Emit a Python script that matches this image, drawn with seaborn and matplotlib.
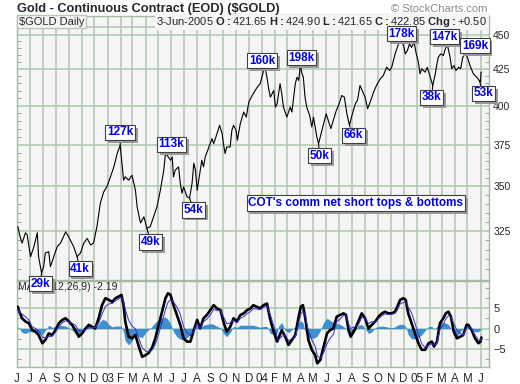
import matplotlib
matplotlib.use("Agg")
import matplotlib.pyplot as plt
import matplotlib.dates as mdates
import matplotlib.ticker as mticker
import matplotlib.patheffects as pe
import seaborn as sns
import pandas as pd

sns.set_style("white")
plt.rcParams['font.family'] = ['Liberation Sans', 'DejaVu Sans']
plt.rcParams['mathtext.fontset'] = 'custom'
plt.rcParams['mathtext.rm'] = 'Liberation Sans'
plt.rcParams['mathtext.bf'] = 'Liberation Sans:bold'

# ---- price data (continuous contract close) ----
price_dates = [
    "2002-06-03", "2002-06-07", "2002-06-13", "2002-06-21", "2002-06-25", "2002-07-03",
    "2002-07-11", "2002-07-19", "2002-07-22", "2002-07-29", "2002-08-03", "2002-08-07",
    "2002-08-15", "2002-08-19", "2002-08-27", "2002-09-04", "2002-09-12", "2002-09-24",
    "2002-10-01", "2002-10-13", "2002-10-21", "2002-10-29", "2002-11-06", "2002-11-14",
    "2002-11-22", "2002-11-29", "2002-12-07", "2002-12-15", "2002-12-23", "2002-12-31",
    "2003-01-08", "2003-01-16", "2003-01-24", "2003-01-31", "2003-02-08", "2003-02-12",
    "2003-02-20", "2003-02-28", "2003-03-08", "2003-03-12", "2003-03-20", "2003-03-28",
    "2003-04-04", "2003-04-12", "2003-04-20", "2003-04-28", "2003-05-06", "2003-05-14",
    "2003-05-18", "2003-05-22", "2003-05-30", "2003-06-03", "2003-06-06", "2003-06-10",
    "2003-06-18", "2003-06-22", "2003-06-26", "2003-06-30", "2003-07-08", "2003-07-14",
    "2003-07-20", "2003-07-24", "2003-07-28", "2003-08-01", "2003-08-04", "2003-08-08",
    "2003-08-12", "2003-08-16", "2003-08-20", "2003-08-26", "2003-08-30", "2003-09-05",
    "2003-09-09", "2003-09-17", "2003-09-23", "2003-09-29", "2003-10-02", "2003-10-06",
    "2003-10-10", "2003-10-18", "2003-10-22", "2003-10-26", "2003-11-01", "2003-11-04",
    "2003-11-11", "2003-11-19", "2003-11-25", "2003-12-01", "2003-12-09", "2003-12-16",
    "2003-12-24", "2003-12-28", "2004-01-05", "2004-01-09", "2004-01-13", "2004-01-17",
    "2004-01-21", "2004-01-29", "2004-02-02", "2004-02-06", "2004-02-13", "2004-02-17",
    "2004-02-21", "2004-02-29", "2004-03-08", "2004-03-12", "2004-03-20", "2004-03-24",
    "2004-03-28", "2004-04-01", "2004-04-05", "2004-04-08", "2004-04-12", "2004-04-16",
    "2004-04-23", "2004-04-28", "2004-05-02", "2004-05-10", "2004-05-14", "2004-05-20",
    "2004-05-24", "2004-06-01", "2004-06-06", "2004-06-12", "2004-06-18", "2004-06-25",
    "2004-06-30", "2004-07-08", "2004-07-14", "2004-07-20", "2004-07-26", "2004-08-01",
    "2004-08-09", "2004-08-14", "2004-08-20", "2004-08-27", "2004-09-01", "2004-09-07",
    "2004-09-13", "2004-09-21", "2004-09-29", "2004-10-07", "2004-10-14", "2004-10-22",
    "2004-10-29", "2004-11-03", "2004-11-11", "2004-11-19", "2004-11-24", "2004-12-01",
    "2004-12-05", "2004-12-10", "2004-12-15", "2004-12-20", "2004-12-26", "2004-12-31",
    "2005-01-05", "2005-01-09", "2005-01-13", "2005-01-21", "2005-01-26", "2005-02-02",
    "2005-02-08", "2005-02-14", "2005-02-18", "2005-02-21", "2005-02-27", "2005-03-05",
    "2005-03-11", "2005-03-15", "2005-03-21", "2005-03-25", "2005-03-30", "2005-04-04",
    "2005-04-10", "2005-04-15", "2005-04-20", "2005-04-25", "2005-05-01", "2005-05-07",
    "2005-05-15", "2005-05-23", "2005-05-29", "2005-06-01", "2005-06-02", "2005-06-03",
]
price_close = [
    327.3, 323.0, 318.5, 324.0, 323.0, 311.4,
    316.6, 324.0, 311.4, 303.2, 306.3, 313.3,
    314.0, 306.3, 311.4, 316.6, 318.5, 324.5,
    321.9, 316.6, 311.4, 313.3, 318.5, 321.0,
    317.5, 318.5, 327.3, 340.3, 346.7, 350.0,
    355.5, 361.4, 369.6, 374.5, 353.5, 355.5,
    353.5, 356.4, 347.7, 338.3, 329.3, 332.7,
    326.5, 327.3, 332.7, 338.3, 347.7, 359.4,
    369.6, 368.4, 365.4, 367.4, 355.5, 359.4,
    361.4, 351.8, 346.0, 349.6, 343.9, 343.2,
    351.8, 363.6, 359.4, 347.7, 352.5, 359.4,
    365.4, 361.4, 367.4, 371.5, 374.5, 378.7,
    375.6, 381.9, 387.2, 381.9, 375.6, 369.5,
    373.5, 373.5, 384.0, 387.2, 384.0, 377.7,
    388.3, 395.8, 392.5, 402.3, 406.8, 410.2,
    413.6, 414.8, 424.0, 425.2, 419.3, 411.4,
    405.7, 410.2, 399.0, 401.3, 414.8, 408.0,
    399.0, 392.5, 399.0, 395.8, 414.8, 419.3,
    417.1, 427.5, 421.7, 419.3, 405.7, 399.0,
    393.6, 386.1, 392.5, 379.7, 375.6, 381.9,
    386.1, 394.7, 390.4, 385.1, 390.4, 396.9,
    400.0, 406.8, 405.7, 394.7, 387.2, 393.6,
    401.3, 403.5, 413.6, 409.0, 405.7, 398.0,
    402.3, 409.0, 414.3, 418.2, 420.5, 426.3,
    424.0, 426.3, 435.9, 443.1, 445.5, 441.9,
    435.9, 438.2, 443.1, 440.6, 444.3, 435.9,
    429.9, 421.7, 425.2, 422.8, 426.3, 419.3,
    413.6, 421.7, 428.7, 433.4, 435.9, 434.7,
    440.6, 441.9, 433.4, 425.2, 427.5, 424.0,
    426.3, 425.2, 433.4, 435.9, 433.4, 427.5,
    421.7, 419.3, 417.1, 416.0, 422.35, 422.85,
]

# ---- MACD(12,26,9) ----
macd_dates = [
    "2002-06-03", "2002-06-05", "2002-06-13", "2002-06-21", "2002-06-29", "2002-07-07",
    "2002-07-15", "2002-07-22", "2002-07-31", "2002-08-07", "2002-08-15", "2002-08-23",
    "2002-08-31", "2002-09-08", "2002-09-16", "2002-09-24", "2002-10-01", "2002-10-09",
    "2002-10-17", "2002-10-25", "2002-11-02", "2002-11-10", "2002-11-18", "2002-11-26",
    "2002-12-03", "2002-12-11", "2002-12-19", "2002-12-27", "2003-01-04", "2003-01-12",
    "2003-01-20", "2003-01-27", "2003-02-03", "2003-02-08", "2003-02-12", "2003-02-20",
    "2003-02-28", "2003-03-08", "2003-03-16", "2003-03-24", "2003-04-01", "2003-04-08",
    "2003-04-16", "2003-04-24", "2003-05-02", "2003-05-10", "2003-05-18", "2003-05-24",
    "2003-05-30", "2003-06-06", "2003-06-14", "2003-06-22", "2003-06-30", "2003-07-08",
    "2003-07-16", "2003-07-24", "2003-08-01", "2003-08-08", "2003-08-16", "2003-08-24",
    "2003-09-01", "2003-09-09", "2003-09-17", "2003-09-25", "2003-10-02", "2003-10-10",
    "2003-10-18", "2003-10-26", "2003-11-03", "2003-11-11", "2003-11-19", "2003-11-27",
    "2003-12-05", "2003-12-12", "2003-12-28", "2004-01-05", "2004-01-13", "2004-01-21",
    "2004-01-29", "2004-02-06", "2004-02-09", "2004-02-17", "2004-02-25", "2004-03-04",
    "2004-03-12", "2004-03-20", "2004-03-28", "2004-04-02", "2004-04-07", "2004-04-12",
    "2004-04-20", "2004-04-28", "2004-05-06", "2004-05-11", "2004-05-18", "2004-05-26",
    "2004-06-03", "2004-06-10", "2004-06-18", "2004-06-26", "2004-07-04", "2004-07-12",
    "2004-07-18", "2004-07-24", "2004-07-29", "2004-08-09", "2004-08-16", "2004-08-24",
    "2004-09-01", "2004-09-09", "2004-09-17", "2004-09-25", "2004-10-03", "2004-10-11",
    "2004-10-18", "2004-10-26", "2004-11-03", "2004-11-11", "2004-11-16", "2004-11-23",
    "2004-12-01", "2004-12-06", "2004-12-12", "2004-12-20", "2004-12-28", "2005-01-05",
    "2005-01-13", "2005-01-21", "2005-01-29", "2005-02-06", "2005-02-11", "2005-02-18",
    "2005-02-25", "2005-03-05", "2005-03-11", "2005-03-17", "2005-03-23", "2005-03-29",
    "2005-04-06", "2005-04-14", "2005-04-21", "2005-04-29", "2005-05-03", "2005-05-11",
    "2005-05-19", "2005-05-27", "2005-06-01", "2005-06-03",
]
macd_line = [
    5.3, 4.5, 2.5, 1.7, 1.3, -0.4,
    -0.8, -1.6, -3.6, -2.8, -1.2, -1.6,
    -0.4, 1.3, 2.1, 2.5, 1.8, 0.9,
    -0.4, -2.0, -1.2, 0.0, 0.9, 0.4,
    0.0, 2.5, 5.7, 7.4, 7.0, 6.5,
    7.4, 7.8, 8.2, 5.7, 1.7, -2.0,
    -2.4, -1.6, -4.4, -6.9, -6.5, -6.0,
    -4.8, -2.4, 0.9, 4.1, 7.4, 8.6,
    8.2, 5.7, 3.3, 0.9, -2.4, -3.2,
    -3.2, -0.4, 2.1, 0.0, 2.5, 3.3,
    4.5, 5.7, 4.9, 4.5, 1.7, -0.8,
    0.4, 2.5, 1.7, 3.3, 3.7, 4.5,
    4.9, 5.7, 4.9, 5.7, 6.1, 2.1,
    -0.8, -3.2, -2.4, -0.4, -2.0, -4.0,
    -2.8, -1.6, 2.9, 5.3, 5.7, 2.9,
    -2.8, -5.2, -6.5, -8.5, -7.7, -4.4,
    -1.2, -0.4, 0.0, 2.9, 3.3, 3.7,
    3.3, -0.4, -2.0, 0.0, 1.7, 3.7,
    2.5, 0.0, 0.9, 1.7, 2.9, 3.7,
    4.1, 3.7, 3.7, 4.1, 5.3, 7.0,
    7.4, 7.0, 3.7, 1.3, -1.2, -3.6,
    -5.2, -5.2, -3.6, -3.2, -4.4, -3.2,
    1.3, 2.5, 3.7, 4.1, 2.9, -0.4,
    -2.4, -2.0, -1.6, 0.9, 0.9, -0.4,
    -2.4, -3.6, -3.2, -2.19,
]
macd_hist = [
    0.5, 0.3, -1.0, -1.2, -0.8, -0.8,
    -0.8, -1.0, -1.5, -0.5, 0.8, 0.3,
    0.5, 0.8, 0.7, 0.6, 0.2, -0.4,
    -1.2, -1.5, -0.6, 0.3, 0.6, 0.2,
    -0.2, 1.2, 2.2, 2.0, 1.0, 0.4,
    0.6, 0.6, 0.5, -1.0, -3.0, -4.0,
    -3.0, -1.5, -2.0, -2.2, -1.0, -0.3,
    0.5, 1.5, 2.2, 2.6, 2.8, 2.2,
    1.2, -0.8, -2.0, -2.6, -2.8, -2.2,
    -1.5, 0.2, 0.8, 0.2, 0.8, 1.0,
    1.2, 1.0, 0.5, 0.2, -1.2, -2.0,
    -1.0, 0.5, 0.3, 0.8, 0.8, 0.8,
    0.8, 0.8, 0.3, 0.5, 0.5, -1.2,
    -1.5, -1.2, 0.5, 1.5, -0.5, -1.0,
    -0.3, 0.5, 1.5, 1.8, 1.5, -0.5,
    -2.2, -2.4, -2.2, -1.8, -0.5, 1.5,
    2.5, 2.0, 1.5, 1.2, 1.0, 0.5,
    0.0, -1.5, -2.0, -0.5, 0.8, 1.0,
    0.0, -1.2, -0.8, 0.2, 0.5, 0.6,
    0.5, 0.3, 0.2, 0.4, 0.8, 1.0,
    1.0, 0.5, -1.5, -2.5, -2.5, -2.2,
    -1.5, -0.5, 0.5, 0.5, -0.2, 0.5,
    1.5, 1.5, 1.3, 1.0, 0.0, -1.8,
    -2.0, -0.8, 0.0, 0.6, 0.5, -0.3,
    -0.8, -0.8, -0.3, 0.2,
]

# ---- COT commercial net short labels at turning points ----
tag_text = ["29k", "41k", "127k", "49k", "113k", "54k", "160k", "198k",
            "50k", "66k", "178k", "38k", "147k", "169k", "53k"]
tag_dates = ["2002-07-29", "2002-10-21", "2003-01-31", "2003-04-04", "2003-05-18",
             "2003-07-14", "2004-01-09", "2004-04-01", "2004-05-14", "2004-07-26",
             "2004-11-24", "2005-02-08", "2005-03-15", "2005-04-25", "2005-05-29"]
tag_price = [303.2, 311.4, 374.5, 326.5, 369.6, 343.2, 425.2, 427.5,
             375.6, 387.2, 445.5, 413.6, 441.9, 435.9, 417.1]
# label box offsets from the marked point, in pixels
tag_dx = [-1, 3, 0, 4, 6, 4, -3, 1, 1, 4, 1, -1, -3, 10, 4]
tag_dy = [-11, -12, 13, -14, 9, -12, 8, 8, -12, -10, 7, -12, 9, 8, -13]

BG = "#f5f5f5"
GRID = "#b4cab4"
SPINE = "#a3b9a3"
BLUE = "#0000ee"
HIST = "#3d8fd1"

price = pd.DataFrame({"date": pd.to_datetime(price_dates), "close": price_close})
macd = pd.DataFrame({"date": pd.to_datetime(macd_dates), "macd": macd_line, "hist": macd_hist})
macd["signal"] = macd["macd"] - macd["hist"]

fig = plt.figure(figsize=(5.2, 3.84), dpi=100)
fig.patch.set_facecolor("white")
ax = fig.add_axes([17 / 520, 1 - 280 / 384, 472 / 520, 264 / 384])
axm = fig.add_axes([17 / 520, 1 - 367 / 384, 472 / 520, 86 / 384])
ax.set_zorder(2)
axm.set_zorder(1)

xmin, xmax = pd.Timestamp("2002-06-01"), pd.Timestamp("2005-06-21")

for a in (ax, axm):
    a.set_facecolor(BG)
    for s in a.spines.values():
        s.set_color(SPINE)
        s.set_linewidth(1.0)
    a.set_xlim(xmin, xmax)
    a.xaxis.set_major_locator(mdates.MonthLocator())
    a.grid(True, which="major", color=GRID, linewidth=1.2)
    a.set_axisbelow(True)
    a.yaxis.tick_right()

# price panel
sns.lineplot(data=price, x="date", y="close", ax=ax, color="black", linewidth=0.8,
             estimator=None, zorder=3)
ax.set_yscale("log")
ax.set_ylim(299.6, 464.1)
ax.yaxis.set_major_locator(mticker.FixedLocator([325, 350, 375, 400, 425, 450]))
ax.yaxis.set_major_formatter(mticker.FixedFormatter(["325", "350", "375", "400", "425", "450"]))
ax.yaxis.set_minor_locator(mticker.FixedLocator([v for v in range(305, 465, 5) if v % 25]))
ax.yaxis.set_minor_formatter(mticker.NullFormatter())
ax.tick_params(axis="y", which="major", length=0, labelsize=7.5, pad=3)
ax.tick_params(axis="y", which="minor", direction="in", length=3, color="#909090",
               left=True, right=True)
ax.tick_params(axis="x", length=0, labelbottom=False)
ax.set_xlabel("")
ax.set_ylabel("")

# header strip inside the price panel
ax.plot([0, 1], [0.958, 0.958], transform=ax.transAxes, color=GRID, lw=1.2, zorder=2)
ax.text(0.004, 0.979, "$GOLD Daily", transform=ax.transAxes, fontsize=8, va="center",
        ha="left", zorder=4,
        bbox=dict(boxstyle="square,pad=0.15", facecolor=BG, edgecolor=GRID, lw=1))
ax.text(0.996, 0.979,
        r"3-Jun-2005 $\mathbf{O:}$421.65 $\mathbf{H:}$424.90 $\mathbf{L:}$421.65 "
        r"$\mathbf{C:}$422.85 $\mathbf{Chg:}$+0.50",
        transform=ax.transAxes, fontsize=8, va="center", ha="right", zorder=4,
        bbox=dict(boxstyle="square,pad=0.15", facecolor=BG, edgecolor="none"))

box_kw = dict(boxstyle="square,pad=0.14", facecolor="white", edgecolor="#404040", lw=0.8)
shadow = [pe.SimplePatchShadow(offset=(2, -2), shadow_rgbFace="#9a9a9a", alpha=1.0),
          pe.Normal()]

for t, d, p, dx, dy in zip(tag_text, tag_dates, tag_price, tag_dx, tag_dy):
    xy = (mdates.date2num(pd.Timestamp(d)), p)
    ann = ax.annotate(t, xy=xy, xytext=(dx, dy), textcoords="offset pixels",
                      ha="center", va="center", fontsize=8.5, fontweight="bold", color=BLUE,
                      bbox=box_kw, annotation_clip=False, zorder=6,
                      arrowprops=dict(arrowstyle="-", color="black", lw=0.8,
                                      shrinkA=0, shrinkB=0))
    ann.get_bbox_patch().set_path_effects(shadow)

cot = ax.text(0.718, 0.2917, "COT's comm net short tops & bottoms", transform=ax.transAxes,
              ha="center", va="center", fontsize=8.5, fontweight="bold", color=BLUE, zorder=6,
              bbox=dict(boxstyle="square,pad=0.15", facecolor="white", edgecolor="#404040",
                        lw=0.8))
cot.get_bbox_patch().set_path_effects(shadow)

# MACD panel
axm.fill_between(macd["date"], 0, macd["hist"], color=HIST, linewidth=0, zorder=2)
sns.lineplot(data=macd, x="date", y="macd", ax=axm, color="black", linewidth=1.9,
             estimator=None, zorder=3)
sns.lineplot(data=macd, x="date", y="signal", ax=axm, color="#3a2bd6", linewidth=0.7,
             estimator=None, zorder=4)
axm.set_ylim(-9.4, 11.6)
axm.yaxis.set_major_locator(mticker.FixedLocator([-5, 0, 5]))
axm.yaxis.set_minor_locator(mticker.FixedLocator([-7.5, -2.5, 2.5, 7.5, 10]))
axm.tick_params(axis="y", which="major", length=0, labelsize=8, pad=3)
axm.tick_params(axis="y", which="minor", direction="in", length=3, color="#909090",
                left=True, right=True)


def month_label(x, pos):
    d = mdates.num2date(x)
    return d.strftime("%y") if d.month == 1 else d.strftime("%b")[0]


axm.xaxis.set_major_formatter(mticker.FuncFormatter(month_label))
axm.tick_params(axis="x", length=3, color="#909090", labelsize=8.3, pad=1.5)
axm.set_xlabel("")
axm.set_ylabel("")
axm.text(0.003, 0.93, "MACD(12,26,9) -2.19", transform=axm.transAxes, fontsize=7.5,
         va="center", ha="left")

fig.text(17 / 520, 1 - 9 / 384, "Gold - Continuous Contract (EOD) ($GOLD)", fontsize=9.2,
         fontweight="bold", va="center", ha="left")
fig.text(487 / 520, 1 - 9 / 384, "\u00a9 StockCharts.com", fontsize=8, color="#8a8a8a",
         va="center", ha="right")

fig.savefig("out.png", dpi=100, facecolor="white")
